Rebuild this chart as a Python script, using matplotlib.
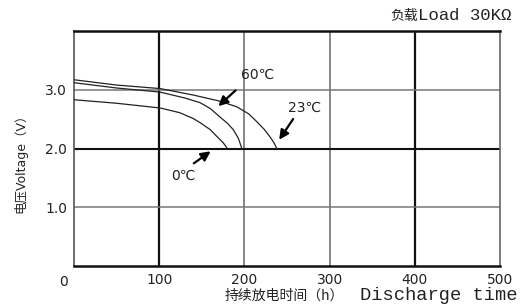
import matplotlib
matplotlib.use("Agg")
import matplotlib.pyplot as plt

# discharge curves (hours, volts)
hours_23c = [0, 50, 101, 140, 170, 191, 205, 215, 223, 230, 235, 238]
volts_23c = [3.17, 3.08, 3.02, 2.91, 2.81, 2.71, 2.59, 2.45, 2.33, 2.20, 2.09, 2.0]

hours_60c = [0, 50, 101, 130, 148, 160, 171, 180, 187, 193, 197]
volts_60c = [3.12, 3.03, 2.96, 2.86, 2.78, 2.68, 2.54, 2.43, 2.32, 2.17, 2.0]

hours_0c = [0, 50, 101, 124, 140, 148, 160, 168, 175, 180]
volts_0c = [2.83, 2.77, 2.69, 2.61, 2.51, 2.44, 2.32, 2.20, 2.10, 2.0]

x_ticks = [100, 200, 300, 400, 500]
x_tick_labels = ["100", "200", "300", "400", "500"]
y_ticks = [1.0, 2.0, 3.0]
y_tick_labels = ["1.0", "2.0", "3.0"]

# (label, text position, arrow tail, arrow head) in data units
callouts = [
    ("60℃", (216, 3.25), (192, 3.02), (167, 2.69)),
    ("23℃", (271, 2.69), (259, 2.54), (239, 2.11)),
    ("0℃", (128, 1.53), (138, 1.72), (163, 1.98)),
]

CJK = "Noto Sans CJK SC"
SANS = ["DejaVu Sans", CJK]


def build_figure():
    fig = plt.figure(figsize=(5.24, 3.06), dpi=100, facecolor="white")
    ax = fig.add_axes([74 / 524, 40 / 306, 426 / 524, 235 / 306])
    ax.set_xlim(0, 500)
    ax.set_ylim(0, 4.0)

    # grid: some lines are drawn darker in the original
    dark_v = {100, 400}
    for x in x_ticks[:-1]:
        dark = x in dark_v
        ax.axvline(x, color="#111111" if dark else "#666666",
                   lw=1.6 if dark else 1.1, zorder=1)
    for y in y_ticks:
        dark = y == 2.0
        ax.axhline(y, color="#111111" if dark else "#777777",
                   lw=1.5 if dark else 1.1, zorder=1)

    for side, col, lw in (("top", "#111111", 1.8), ("bottom", "#111111", 1.8),
                          ("left", "#555555", 1.2), ("right", "#666666", 1.2)):
        ax.spines[side].set_color(col)
        ax.spines[side].set_linewidth(lw)

    for hx, vy in ((hours_23c, volts_23c), (hours_60c, volts_60c), (hours_0c, volts_0c)):
        ax.plot(hx, vy, color="#222222", lw=0.9, zorder=3)

    ax.set_xticks(x_ticks)
    ax.set_xticklabels(x_tick_labels)
    ax.set_yticks(y_ticks)
    ax.set_yticklabels(y_tick_labels)
    ax.tick_params(length=0, labelsize=10, labelcolor="#222222", pad=5)
    ax.text(-12, -0.15, "0", ha="center", va="top", fontsize=10, color="#222222")

    for label, txt, tail, head in callouts:
        ax.text(*txt, label, ha="center", va="center", fontsize=10,
                family=SANS, color="#222222")
        ax.annotate("", xy=head, xytext=tail,
                    arrowprops=dict(arrowstyle="-|>", color="black", lw=1.6,
                                    mutation_scale=14))

    # axis titles, mixed CJK and wide monospace latin
    fig.text(20 / 524, 1 - 160 / 306, "电压Voltage（V）", rotation=90,
             ha="center", va="center", fontsize=9, family=SANS, color="#222222")

    fig.text(225 / 524, 1 - 300 / 306, "持续放电时间（h）", ha="left",
             va="baseline", fontsize=10, family=CJK, color="#222222")
    fig.text(360 / 524, 1 - 300 / 306, "Discharge time", ha="left",
             va="baseline", fontsize=13.5, family="Liberation Mono", color="#222222")

    fig.text(390 / 524, 1 - 20 / 306, "负载", ha="left", va="baseline",
             fontsize=10, family=CJK, color="#222222")
    fig.text(418 / 524, 1 - 20 / 306, "Load 30KΩ", ha="left", va="baseline",
             fontsize=12.5, family="Liberation Mono", color="#222222")

    return fig


def main():
    fig = build_figure()
    fig.savefig("out.png", facecolor=fig.get_facecolor())


if __name__ == "__main__":
    main()
